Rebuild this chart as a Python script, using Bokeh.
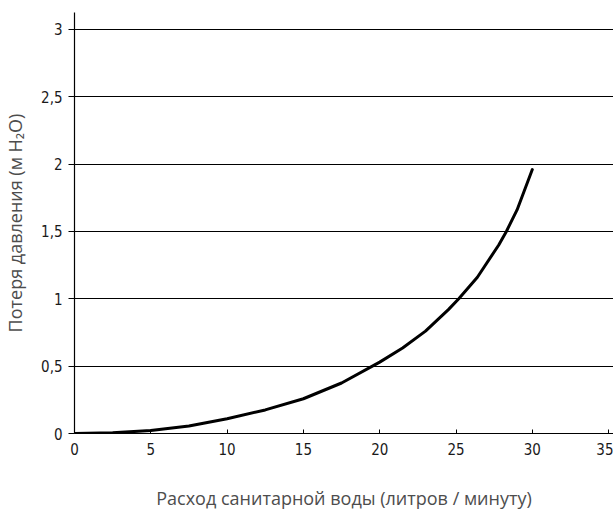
from bokeh.plotting import figure
from bokeh.models import FixedTicker, Range1d
from bokeh.embed import file_html
from bokeh.resources import INLINE

flow = [0, 2.5, 5, 7.5, 10, 12.5, 15, 17.5, 20, 21.5, 23, 24.5, 25.18, 26.4, 27.8, 28.3, 29, 30]
loss = [0, 0.005, 0.022, 0.055, 0.11, 0.175, 0.258, 0.375, 0.53, 0.635, 0.76, 0.92, 1.0, 1.16, 1.40, 1.5, 1.66, 1.96]
x_ticks = [0, 5, 10, 15, 20, 25, 30, 35]
y_ticks = [0, 0.5, 1, 1.5, 2, 2.5, 3]
y_tick_labels = ["0", "0,5", "1", "1,5", "2", "2,5", "3"]
x_title = "Расход санитарной воды (литров / минуту)"
y_title = "Потеря давления (м H₂O)"

p = figure(width=613, height=513, output_backend="svg", toolbar_location=None,
           x_range=Range1d(0, 35.32), y_range=Range1d(0, 3.126),
           min_border_left=74, min_border_right=0, min_border_top=12, min_border_bottom=80)
p.outline_line_color = None
p.background_fill_color = "white"

p.line(flow, loss, line_color="black", line_width=3, line_join="round", line_cap="round")

tick_font = "DejaVu Sans Condensed"
p.xaxis.ticker = FixedTicker(ticks=x_ticks)
p.yaxis.ticker = FixedTicker(ticks=y_ticks)
p.yaxis.major_label_overrides = {t: l for t, l in zip(y_ticks, y_tick_labels)}
for ax in (p.xaxis, p.yaxis):
    ax.axis_line_color = "black"
    ax.axis_line_width = 1.2
    ax.major_tick_line_color = "black"
    ax.minor_tick_line_color = None
    ax.major_label_text_font = tick_font
    ax.major_label_text_font_size = "15px"
    ax.major_label_text_color = "#1a1a1a"
    ax.axis_label_text_font = "Open Sans"
    ax.axis_label_text_font_style = "normal"
    ax.axis_label_text_font_size = "18px"
    ax.axis_label_text_color = "#4d4d4d"

p.xaxis.major_tick_in = 4
p.xaxis.major_tick_out = 0
p.xaxis.major_label_standoff = 9
p.yaxis.major_tick_in = 0
p.yaxis.major_tick_out = 6
p.yaxis.major_label_standoff = 6

p.xaxis.axis_label = x_title
p.xaxis.axis_label_standoff = 28
p.yaxis.axis_label = y_title
p.yaxis.axis_label_standoff = 11

p.xgrid.grid_line_color = None
p.ygrid.grid_line_color = "black"
p.ygrid.grid_line_width = 1
p.ygrid.ticker = FixedTicker(ticks=y_ticks[1:])

open("out.html", "w").write(file_html(p, INLINE))
